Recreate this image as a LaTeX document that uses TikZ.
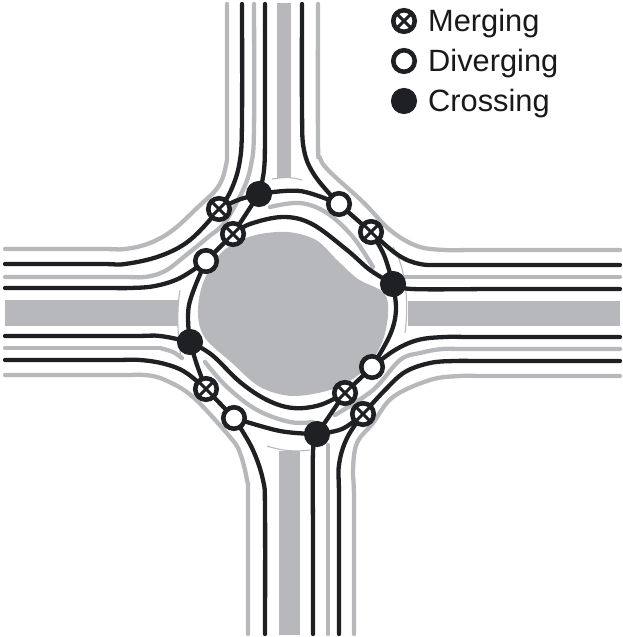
\documentclass[tikz,border=0pt]{standalone}
\usepackage{fontspec}
\setmainfont{Liberation Sans}
\usetikzlibrary{backgrounds}
\definecolor{roadgray}{HTML}{B6B8BB}
\definecolor{ink}{HTML}{1E2023}
\tikzset{
  basept/.style={circle,inner sep=0pt,minimum size=21.5pt,line width=4.6pt,draw=ink},
  merging/.style={basept,fill=white,path picture={
    \draw[ink,line width=3pt] (path picture bounding box.north west)--(path picture bounding box.south east);
    \draw[ink,line width=3pt] (path picture bounding box.north east)--(path picture bounding box.south west);}},
  diverging/.style={basept,fill=white},
  crossing/.style={basept,fill=ink},
  blackline/.style={draw=ink,line width=4.3pt,line cap=round},
  grayline/.style={draw=roadgray,line width=4.3pt,line cap=round},
  thinline/.style={draw=roadgray,line width=1.1pt},
  median/.style={fill=roadgray,draw=none},
  legendtext/.style={anchor=base west,inner sep=0pt,font=\fontsize{30.8}{31}\selectfont,text=black!90},
  sm/.style={smooth,tension=0.6}
}
\begin{document}
\begin{tikzpicture}[x=1pt,y=-1pt]
\useasboundingbox (0,0) rectangle (623,637);
% conflict points
\node[merging] (m1) at (219,209) {};
\node[merging] (m2) at (233,234) {};
\node[merging] (m3) at (371,232) {};
\node[merging] (m4) at (345,393) {};
\node[merging] (m5) at (363,414) {};
\node[merging] (m6) at (206,389) {};
\node[diverging] (d1) at (339,204) {};
\node[diverging] (d2) at (206,261) {};
\node[diverging] (d3) at (372,367) {};
\node[diverging] (d4) at (234,418) {};
\node[crossing] (c1) at (259,194) {};
\node[crossing] (c2) at (393,284) {};
\node[crossing] (c3) at (190,342) {};
\node[crossing] (c4) at (317,434) {};
% legend
\node[merging] (lm) at (404,21) {};
\node[diverging] (ld) at (404,61) {};
\node[crossing] (lc) at (404,101) {};
\node[legendtext] (tm) at (428,31) {Merging};
\node[legendtext] (td) at (428,71) {Diverging};
\node[legendtext] (tc) at (428,111) {Crossing};
% free ends
\coordinate (T1) at (242,4);  \coordinate (T2) at (265,4);  \coordinate (T3) at (302,4);
\coordinate (L1) at (5,264);  \coordinate (L2) at (5,288);  \coordinate (L3) at (5,336);  \coordinate (L4) at (5,360);
\coordinate (R1) at (620,265);\coordinate (R2) at (620,289);\coordinate (R3) at (620,337);\coordinate (R4) at (620,361);
\coordinate (B1) at (265,634);\coordinate (B2) at (313,634);\coordinate (B3) at (339,634);
\coordinate (R2a) at (412,289);\coordinate (B2a) at (313,452);
\begin{scope}[on background layer]
% medians
\path[median] (277,3) rectangle (291,178);
\path[median] (279,451) rectangle (300,635);
\path[median] (5,300) rectangle (178,326);
\path[median] (408,301) rectangle (620,326);
% island
\path[median] plot[smooth cycle,tension=0.55] coordinates {(198,314) (203,283) (222,252) (252,236) (287,232) (316,240) (337,260) (358,279) (384,293) (388,315) (381,345) (362,372) (333,389) (293,396) (260,387) (232,363) (205,338)};
% thin arcs at median ends
\draw[thinline] (272,179) .. controls (285,177) and (292,177) .. (302,180);
\draw[thinline] (267,446) .. controls (282,451) and (296,452) .. (310,450);
\draw[thinline] (180,290) .. controls (177,305) and (177,335) .. (181,357);
\draw[thinline] (393,247) .. controls (403,262) and (410,295) .. (405,333);
% gray road edges
\draw[grayline] plot[sm] coordinates {(227,4) (227,140) (226,165) (218,187) (197,208) (173,230) (150,243) (125,249) (100,249) (5,249)};
\draw[grayline] plot[sm] coordinates {(318,4) (318,140) (320,158) (330,172) (363,202) (390,230) (417,246) (445,250) (480,250) (620,250)};
\draw[grayline] plot[sm] coordinates {(248,634) (248,500) (247,480) (240,453) (230,437) (193,397) (165,380) (145,375) (120,375) (5,375)};
\draw[grayline] plot[sm] coordinates {(354,634) (354,500) (353,470) (357,443) (373,423) (393,397) (430,380) (460,376) (490,376) (620,376)};
\draw[grayline] plot[sm] coordinates {(254,4) (254,130) (251,165) (243,190) (225,222) (207,238) (185,256) (165,271) (145,277) (120,277) (5,277)};
\draw[grayline] plot[sm] coordinates {(620,349) (470,349) (443,349) (420,353) (400,360) (373,390) (335,415)};
\draw[grayline] (404,277) -- (620,277);
\draw[grayline] (328,445) -- (328,634);
\draw[grayline] (5,348) -- (160,348);
\draw[grayline] plot[sm] coordinates {(160,348) (173,352) (182,358)};
\draw[grayline] plot[sm] coordinates {(270,207) (300,203) (327,213) (353,237) (373,267)};
\draw[grayline] plot[sm] coordinates {(205,362) (227,387) (257,410) (290,422) (313,422)};
% black approach lines
\draw[blackline] plot[sm] coordinates {(T1) (242,120) (240,160) (232,188) (m1) (190,240) (160,256) (125,264) (100,264) (L1)};
\draw[blackline] plot[sm] coordinates {(T2) (265,130) (264,170) (c1)};
\draw[blackline] plot[sm] coordinates {(T3) (302,110) (304,150) (315,176) (d1)};
\draw[blackline] plot[sm] coordinates {(m3) (398,255) (420,264) (445,265) (480,265) (R1)};
\draw[blackline] plot[sm] coordinates {(c2) (R2a) (500,289) (R2)};
\draw[blackline] plot[sm] coordinates {(d3) (395,350) (418,340) (445,337) (480,337) (R3)};
\draw[blackline] plot[sm] coordinates {(m5) (385,390) (405,372) (430,363) (455,361) (490,361) (R4)};
\draw[blackline] plot[sm] coordinates {(d2) (180,278) (155,286) (130,288) (100,288) (L2)};
\draw[blackline] plot[sm] coordinates {(c3) (160,336) (130,336) (L3)};
\draw[blackline] plot[sm] coordinates {(m6) (185,372) (165,364) (140,360) (110,360) (L4)};
\draw[blackline] plot[sm] coordinates {(d4) (252,448) (263,480) (265,510) (B1)};
\draw[blackline] plot[sm] coordinates {(c4) (B2a) (313,540) (B2)};
\draw[blackline] plot[sm] coordinates {(m5) (347,438) (339,465) (339,500) (B3)};
% black circulating lines
\draw[blackline] plot[sm] coordinates {(m1) (238,200) (c1)};
\draw[blackline] plot[sm] coordinates {(c1) (300,191) (d1)};
\draw[blackline] (d1) -- (m3);
\draw[blackline] plot[sm] coordinates {(m3) (384,255) (c2)};
\draw[blackline] plot[sm] coordinates {(c2) (396,310) (390,335) (d3)};
\draw[blackline] (d3) -- (m4);
\draw[blackline] (m4) -- (c4);
\draw[blackline] plot[sm] coordinates {(c4) (342,429) (m5)};
\draw[blackline] plot[sm] coordinates {(c4) (280,431) (d4)};
\draw[blackline] (d4) -- (m6);
\draw[blackline] plot[sm] coordinates {(m6) (197,365) (c3)};
\draw[blackline] plot[sm] coordinates {(c3) (189,305) (d2)};
\draw[blackline] (d2) -- (m2);
\draw[blackline] (m2) -- (c1);
% weaving lines around the island
\draw[blackline] plot[sm] coordinates {(m2) (250,224) (283,217) (312,224) (347,250) (370,270) (c2)};
\draw[blackline] plot[sm] coordinates {(c3) (212,355) (240,382) (267,400) (293,408) (320,405) (m4)};
\end{scope}
\end{tikzpicture}
\end{document}
